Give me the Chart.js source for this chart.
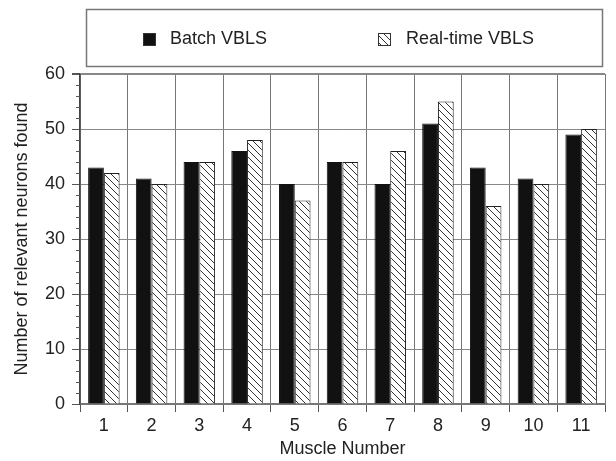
<!DOCTYPE html>
<html>
<head>
<meta charset="utf-8">
<script src="https://cdn.jsdelivr.net/npm/chart.js@4.4.0/dist/chart.umd.min.js"></script>
<style>
  html, body { margin: 0; padding: 0; background: #fff; }
  #wrap { width: 616px; height: 461px; }
</style>
</head>
<body>
<div id="wrap"><canvas id="chart" width="616" height="461"></canvas></div>
<script>
// ─── Data ────────────────────────────────────────────────────
const muscles = ["1", "2", "3", "4", "5", "6", "7", "8", "9", "10", "11"];
const batchVbls = [43, 41, 44, 46, 40, 44, 40, 51, 43, 41, 49];
const realtimeVbls = [42, 40, 44, 48, 37, 44, 46, 55, 36, 40, 50];
const seriesNames = ["Batch VBLS", "Real-time VBLS"];
const yMin = 0;
const yMax = 60;

Chart.defaults.font.family = "'Liberation Sans', Arial, sans-serif";
Chart.defaults.color = "#222";

// diagonal "\" hatch used for the real-time bars
function makeHatch() {
  const size = 7;
  const c = document.createElement("canvas");
  c.width = size;
  c.height = size;
  const g = c.getContext("2d");
  g.fillStyle = "#fff";
  g.fillRect(0, 0, size, size);
  g.strokeStyle = "#333";
  g.lineWidth = 1;
  for (const k of [-size, 0, size]) {
    g.beginPath();
    g.moveTo(k, 0);
    g.lineTo(k + size, size);
    g.stroke();
  }
  return g.createPattern(c, "repeat");
}
const hatch = makeHatch();

// minor tick marks every 2 units on the y axis
const minorTicks = {
  id: "minorTicks",
  afterDraw(chart) {
    const y = chart.scales.y;
    const ctx = chart.ctx;
    ctx.save();
    ctx.strokeStyle = "#555";
    ctx.lineWidth = 1;
    for (let v = yMin; v <= yMax; v += 2) {
      if (v % 10 === 0) continue;
      const py = Math.round(y.getPixelForValue(v)) + 0.5;
      ctx.beginPath();
      ctx.moveTo(y.right - 4, py);
      ctx.lineTo(y.right, py);
      ctx.stroke();
    }
    ctx.restore();
  },
};

// boxed legend above the plot
const boxLegend = {
  id: "boxLegend",
  afterDraw(chart) {
    const ctx = chart.ctx;
    const ds = chart.data.datasets;
    ctx.save();
    ctx.strokeStyle = "#777";
    ctx.lineWidth = 1.5;
    ctx.strokeRect(86.5, 9.5, 516, 57);

    const items = [
      { box: 143, text: 170 },
      { box: 378, text: 406 },
    ];
    ctx.font = "18px 'Liberation Sans', Arial, sans-serif";
    ctx.textBaseline = "middle";
    items.forEach((it, i) => {
      ctx.fillStyle = ds[i].backgroundColor;
      ctx.fillRect(it.box + 0.5, 33.5, 12, 12);
      ctx.strokeStyle = "#333";
      ctx.lineWidth = 1;
      ctx.strokeRect(it.box + 0.5, 33.5, 12, 12);
      ctx.fillStyle = "#222";
      ctx.fillText(ds[i].label, it.text, 39);
    });
    ctx.restore();
  },
};

new Chart(document.getElementById("chart").getContext("2d"), {
  type: "bar",
  data: {
    labels: muscles,
    datasets: [
      {
        label: seriesNames[0],
        data: batchVbls,
        backgroundColor: "#111",
        borderColor: "#111",
        borderWidth: 1,
      },
      {
        label: seriesNames[1],
        data: realtimeVbls,
        backgroundColor: hatch,
        borderColor: "#222",
        borderWidth: 1,
      },
    ],
  },
  options: {
    responsive: false,
    animation: false,
    layout: { padding: { top: 74, right: 11, left: 0, bottom: 0 } },
    datasets: {
      bar: { barPercentage: 1.0, categoryPercentage: 0.66 },
    },
    plugins: {
      legend: { display: false },
      tooltip: { enabled: false },
    },
    scales: {
      x: {
        offset: true,
        grid: {
          offset: true,
          color: "#777",
          lineWidth: 1,
          tickLength: 8,
          tickColor: "#555",
        },
        border: { color: "#777", width: 2 },
        ticks: { font: { size: 18 }, padding: 3, color: "#222" },
        title: {
          display: true,
          text: "Muscle Number",
          font: { size: 18 },
          color: "#222",
          padding: { top: 0, bottom: 1 },
        },
        afterFit: (s) => { s.height = 57; },
      },
      y: {
        min: yMin,
        max: yMax,
        grid: {
          color: "#888",
          lineWidth: (c) => (c.tick && c.tick.value === yMax ? 2 : 1),
          tickLength: 8,
          tickColor: "#555",
        },
        border: { color: "#444", width: 1.5 },
        ticks: { stepSize: 10, font: { size: 18 }, padding: 7, color: "#222" },
        title: {
          display: true,
          text: "Number of relevant neurons found",
          font: { size: 18 },
          color: "#222",
          padding: { top: 11, bottom: 0 },
        },
        afterFit: (s) => { s.width = 80; },
      },
    },
  },
  plugins: [minorTicks, boxLegend],
});
</script>
</body>
</html>
